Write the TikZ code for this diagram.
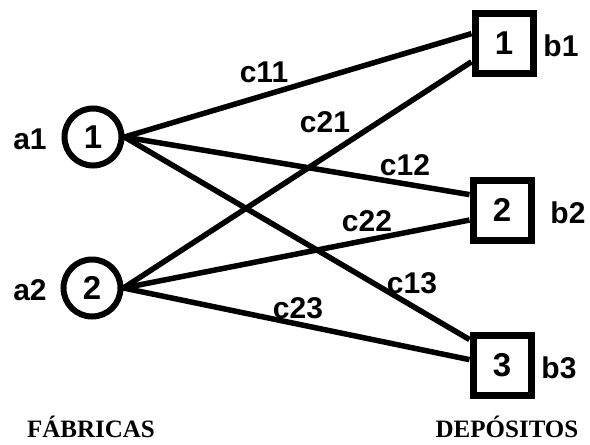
\documentclass[tikz,border=0pt]{standalone}
\usepackage{fontspec}
\setmainfont{Liberation Sans}
\newfontfamily\capfont{Liberation Serif}
\usetikzlibrary{calc}
\begin{document}
\begin{tikzpicture}[x=1pt,y=-1pt,
  lbl/.style={font=\fontsize{30}{33}\selectfont\bfseries, inner sep=0pt},
  nodetext/.style={font=\fontsize{33}{36}\selectfont\bfseries},
  factory/.style={circle, draw, line width=6pt, minimum size=57pt, inner sep=0pt, nodetext},
  depot/.style={rectangle, draw, line width=7pt, minimum width=58pt, minimum height=60pt, inner sep=0pt, nodetext},
  link/.style={line width=5.5pt},
  capt/.style={font=\capfont\fontsize{25}{28}\selectfont\bfseries, inner sep=0pt}]
\useasboundingbox (0,0) rectangle (590,445);
\fill[white] (0,0) rectangle (590,445);

% sources
\node[factory] (f1) at (93,137) {1};
\node[factory] (f2) at (92,288) {2};
\node[lbl] (la1) at (30,139) {a1};
\node[lbl] (la2) at (30,290) {a2};

% destinations
\node[depot] (d1) at (504,43) {1};
\node[depot] (d2) at (502,210) {2};
\node[depot] (d3) at (502,365) {3};
\node[lbl] (lb1) at (561,46) {b1};
\node[lbl] (lb2) at (568,213) {b2};
\node[lbl] (lb3) at (559,368) {b3};

% transport links
\draw[link] (f1.east) -- ($(d1.north west)!0.36!(d1.south west)$);
\draw[link] (f1.east) -- ($(d2.north west)!0.27!(d2.south west)$);
\draw[link] (f1.east) -- ($(d3.north west)!0.12!(d3.south west)$);
\draw[link] (f2.east) -- ($(d1.north west)!0.78!(d1.south west)$);
\draw[link] (f2.east) -- ($(d2.north west)!0.65!(d2.south west)$);
\draw[link] (f2.east) -- ($(d3.north west)!0.42!(d3.south west)$);

% costs
\node[lbl] (c11) at (264,72) {c11};
\node[lbl] (c21) at (325,122) {c21};
\node[lbl] (c12) at (405,165) {c12};
\node[lbl] (c22) at (367,221) {c22};
\node[lbl] (c13) at (412,283) {c13};
\node[lbl] (c23) at (298,308) {c23};

% captions
\node[capt] (fab) at (91,427) {FÁBRICAS};
\node[capt] (dep) at (507,427) {DEPÓSITOS};
\end{tikzpicture}
\end{document}
